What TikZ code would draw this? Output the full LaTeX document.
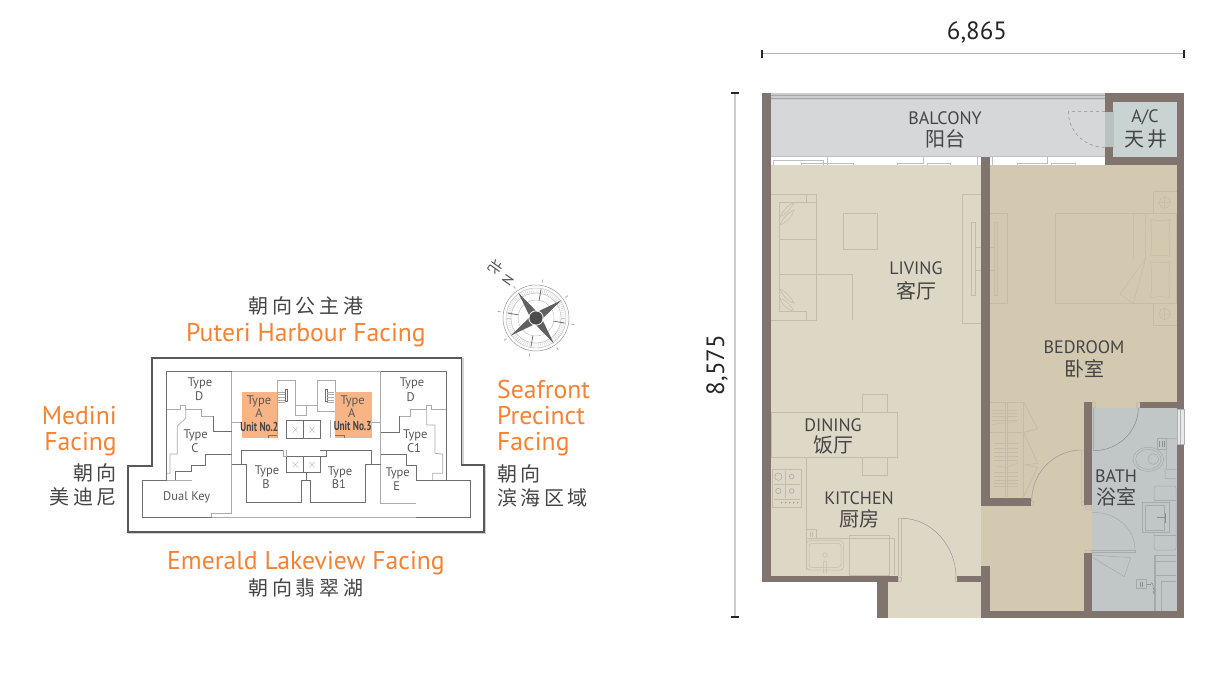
\documentclass[tikz,border=0pt]{standalone}
\usepackage{fontspec}
\setmainfont{PT Sans}
\newfontfamily\cjk{Noto Sans CJK SC}
\newfontfamily\cjkw[LetterSpace=18]{Noto Sans CJK SC}
\definecolor{wallc}{HTML}{81746F}
\definecolor{livc}{HTML}{DDD7C5}
\definecolor{bedc}{HTML}{D3C9B1}
\definecolor{bathc}{HTML}{C1C6C7}
\definecolor{balc}{HTML}{D6D7D8}
\definecolor{acc}{HTML}{C9D3D1}
\definecolor{orangec}{HTML}{F58233}
\definecolor{txtc}{HTML}{454545}
\definecolor{fixc}{HTML}{C3BCA9}
\definecolor{bfix}{HTML}{A5ABAD}
\definecolor{kdark}{HTML}{6E6E6E}
\definecolor{klight}{HTML}{ABABAB}
\tikzset{
 wall/.style={fill=wallc,draw=none},
 fix/.style={draw=fixc,line width=.5pt},
 bfx/.style={draw=bfix,line width=.5pt},
 rail/.style={draw=black!25,line width=.5pt},
 kd/.style={draw=kdark,line width=.9pt},
 kl/.style={draw=klight,line width=.7pt},
 lbl/.style={text=txtc,inner sep=0pt,font=\fontsize{18}{18}\selectfont},
 clbl/.style={text=txtc,inner sep=0pt,font=\fontsize{20}{20}\cjk},
 olbl/.style={text=orangec,inner sep=0pt,font=\fontsize{25.7}{25.7}\selectfont},
 glbl/.style={text=txtc,inner sep=0pt,font=\fontsize{20}{20}\cjkw},
 tlbl/.style={text=txtc!90,inner sep=0pt,font=\fontsize{12.5}{12.5}\selectfont},
 ulbl/.style={text=txtc,inner sep=0pt,font=\fontsize{13}{13}\bfseries\selectfont},
 dimline/.style={draw=black!30,line width=1.1pt},
 dimtick/.style={draw=black!85,line width=1.1pt},
 dimtxt/.style={text=black!85,inner sep=0pt,font=\fontsize{25}{25}\selectfont},
 zoomed/.style={x=.33333pt,y=-.33333pt},
}
\begin{document}
\begin{tikzpicture}[x=1pt,y=-1pt]
\useasboundingbox (0,0) rectangle (1232,675);
\fill[white] (0,0) rectangle (1232,675);

% ---------- floors
\fill[balc] (771,93) rectangle (1105,157);
\fill[black!20] (771,93) rectangle (1105,100);
\draw[black!35,line width=.8pt] (771,95.5) -- (1105,95.5);
\draw[black!35,line width=.8pt] (771,98.5) -- (1105,98.5);
\fill[acc] (1105,102) rectangle (1177,157);
\fill[livc] (771,165) rectangle (981,576);
\fill[livc] (888,576) rectangle (981,618);
\fill[bedc] (981,165) rectangle (1177,402);
\fill[bedc] (981,402) rectangle (1084,612);
\fill[bedc] (1084,402) rectangle (1140,408);
\fill[bedc] (1084,505) rectangle (1092,553);
\fill[bathc] (1092,408) rectangle (1177,612);
\fill[bathc!40!white] (1177,409) rectangle (1184,444);

% ---------- upper plan fixtures
\begin{scope}[shift={(755,85)},zoomed]
 \draw[rail] (55,240)--(55,225)--(205,225)--(205,240) (218,240)--(218,215)
  (138,240)--(138,236)--(295,236)--(295,240)
  (428,240)--(428,236)--(505,236)--(505,215) (517,240)--(517,236)--(585,236)--(585,240)
  (668,240)--(668,215) (712,240)--(712,215)
  (788,240)--(788,236)--(878,236)--(878,215) (888,240)--(888,236)--(962,236)--(962,240)
  (48,215)--(677,215) (704,215)--(1050,215);
 \draw[draw=black!45,dashed,line width=.5pt] (1050,80)--(940,80)
   .. controls (940,135) and (985,187) .. (1050,187);
 \filldraw[fill=acc,draw=black!25,line width=.4pt] (1050,80) rectangle (1075,187);
 % sofa
 \draw[fix] (48,327)--(184,327)--(184,706)--(48,706)
   (155,327)--(155,353)--(73,353)--(73,680)--(155,680)--(155,706)
   (73,463)--(184,463) (73,568)--(292,568)--(292,706)
   (155,327)--(155,353)--(184,353);
 \draw[fix] (75,395) .. controls (85,375) and (105,355) .. (117,353) .. controls (105,375) and (90,390) .. (75,395)
   (75,420) .. controls (85,395) and (105,380) .. (117,375) .. controls (110,400) and (90,415) .. (75,420);
 \draw[fix] (75,612) .. controls (95,620) and (110,640) .. (117,655) .. controls (100,650) and (80,630) .. (75,612)
   (75,640) .. controls (95,645) and (110,665) .. (117,680) .. controls (100,675) and (80,660) .. (75,640);
 \draw[fix] (265,385) rectangle (368,494);
 % TV units
 \draw[fix] (677,327)--(622,327)--(622,716)--(677,716);
 \draw[fix] (648,412) rectangle (660,632) (660,487)--(677,487) (660,555)--(677,555);
 \draw[fix] (704,385)--(757,385)--(757,655)--(704,655);
 \draw[fix] (718,412) rectangle (728,632) (704,487)--(718,487) (704,555)--(718,555);
 % bed
 \draw[fix] (901,385) rectangle (1265,655);
 \draw[fix] (1135,385)--(1135,520) (1172,385)--(1172,520)--(1095,628)--(1135,655)--(1172,520);
 \draw[fix] (1265,320)--(1196,320)--(1196,385) (1196,655)--(1196,720)--(1265,720);
 \draw[fix] (1229,353) circle[radius=17] (1212,353)--(1246,353) (1229,336)--(1229,370);
 \draw[fix] (1229,687) circle[radius=17] (1212,687)--(1246,687) (1229,670)--(1229,704);
 \draw[fix] (1187,403) .. controls (1205,408) and (1228,408) .. (1245,403) .. controls (1241,440) and (1241,480) .. (1245,513) .. controls (1228,510) and (1205,510) .. (1187,513) .. controls (1191,480) and (1191,440) .. (1187,403);
 \draw[fix] (1187,530) .. controls (1205,534) and (1228,534) .. (1245,530) .. controls (1241,565) and (1241,605) .. (1245,638) .. controls (1228,634) and (1205,634) .. (1187,638) .. controls (1191,605) and (1191,565) .. (1187,530);
\end{scope}

% ---------- lower plan fixtures
\begin{scope}[shift={(755,350)},zoomed]
 \filldraw[fill=livc!96!white,draw=fixc,line width=.5pt] (48,187) rectangle (428,322);
 \draw[fix] (323,187)--(323,133)--(398,133)--(398,187) (323,322)--(323,376)--(398,376)--(398,322);
 \draw[fix] (48,322)--(155,322)--(155,660);
 \draw[fix,line width=.7pt] (52,358) rectangle (138,472);
 \draw[fix,draw=black!35] (70,380) circle[radius=11] (110,380) circle[radius=7] (70,423) circle[radius=8] (110,423) circle[radius=7];
 \draw[fix] (58,402)--(135,402) (90,362)--(90,445) (56,448)--(135,448);
 \foreach \q in {80,92,104,116,128}{\fill[black!40] (\q,458) circle[radius=2.5];}
 \draw[fix] (155,538) rectangle (185,565) (165,545)--(165,560) (173,545)--(173,560);
 \draw[fix] (155,565)--(418,565)--(418,675);
 \draw[fix,rounded corners=3pt] (155,572) rectangle (265,660);
 \draw[fix,rounded corners=3pt] (162,580) rectangle (258,652);
 \draw[fix] (210,615) circle[radius=7] (205,670)--(205,635)--(215,635)--(215,670);
 \draw[fix] (282,557) rectangle (402,675);
 \draw[fix] (430,678)--(430,505)--(440,505)--(440,678);
 \draw[draw=black!40,line width=.5pt] (440,505) .. controls (531,505) and (603,590) .. (603,680);
 \draw[fix] (430,683) rectangle (440,695) (600,683) rectangle (610,695);
\end{scope}

% wardrobe + bedroom door
\begin{scope}[shift={(985,395)},zoomed]
 \draw[fix] (15,22)--(116,22)--(116,305) (15,112)--(116,112) (60,22)--(60,305) (68,22)--(68,305);
 \foreach \q in {45,55,65,75}{\draw[fix] (22,\q)--(95,\q);}
 \draw[fix] (22,88)--(95,80);
 \foreach \q in {145,160,172,183,195,232,243,255,265,274}{\draw[fix] (28,\q)--(100,\q);}
 \draw[fix] (28,212)--(65,218)--(100,203);
 \draw[fix,line width=.8pt] (116,22)--(158,102)--(116,112)--(158,205)--(118,210)--(158,217)--(116,305);
 \draw[draw=black!40,line width=.5pt] (140,318) .. controls (140,230) and (210,165) .. (290,165);
 \draw[fix] (288,165)--(288,315) (298,165)--(298,315) (288,165)--(298,165);
 \draw[fix] (136,318) rectangle (146,330) (290,318) rectangle (302,330);
\end{scope}

% bathroom fixtures
\begin{scope}[shift={(1085,400)},zoomed]
 \draw[bfx] (25,152)--(25,22);
 \draw[draw=black!45,line width=.5pt] (25,152) .. controls (100,152) and (160,95) .. (160,22);
 \draw[fix] (22,8) rectangle (32,22) (155,8) rectangle (165,22);
 \draw[bfx] (217,115) rectangle (245,148);
 \foreach \q in {224,231,238}{\draw[black!45,line width=.4pt] (\q,122)--(\q,142);}
 \draw[bfx] (245,115)--(275,115) (245,115)--(245,208)--(275,208)
   (190,178) ellipse[x radius=46,y radius=36] (190,178) ellipse[x radius=38,y radius=30]
   (205,177) circle[radius=16] (273,235)--(240,235)--(240,205);
 \draw[bfx,rounded corners=2pt] (207,258) rectangle (273,450);
 \draw[bfx] (207,300)--(273,300) (207,405)--(273,405);
 \filldraw[fill=bathc,draw=bfix,line width=.5pt] (172,307) rectangle (253,398);
 \draw[bfx] (182,317) rectangle (238,390);
 \draw[black!45,line width=.4pt] (217,353)--(240,353) (240,340)--(240,368);
 \draw[bfx] (22,337) .. controls (95,337) and (150,385) .. (150,450);
 \draw[bfx] (22,450)--(150,450) (22,458)--(150,458)--(150,450);
 \draw[fix] (0,318) rectangle (20,328) (0,450) rectangle (20,460);
 \draw[bfx] (22,465)--(137,473)--(118,530)--(22,472);
 \draw[bfx] (207,465)--(273,465) (207,485)--(273,485) (207,465)--(207,635)--(273,635)
   (212,525)--(273,525) (228,635)--(228,545)--(273,545) (212,465)--(212,635);
 \draw[bfx] (155,538) rectangle (185,565);
 \draw[black!45,line width=.4pt] (165,545)--(165,560) (172,545)--(172,560) (185,552)--(198,552);
 \draw[black!50,line width=.5pt] (198,548) .. controls (210,552) and (200,565) .. (208,570) .. controls (203,574) and (206,578) .. (208,582);
\end{scope}

% ---------- walls
\fill[wall] (761.7,93) rectangle (771,582);
\fill[wall] (761.7,575.5) rectangle (898,582);
\fill[wall] (957,575.5) rectangle (981,582);
\fill[wall] (877,577) rectangle (888,618);
\fill[wall] (981,566) rectangle (990,618);
\fill[wall] (981,611) rectangle (1184,618);
\fill[wall] (981,157) rectangle (990,506);
\fill[wall] (981,498) rectangle (1031,506);
\fill[wall] (1084,402) rectangle (1092,505);
\fill[wall] (1084,553) rectangle (1092,618);
\fill[wall] (1140,402) rectangle (1184,408);
\fill[wall] (1177,93) rectangle (1184,409);
\fill[wall] (1177,444) rectangle (1184,618);
\fill[wall] (1105,93) rectangle (1184,102);
\fill[wall] (1105,157) rectangle (1184,165);
\fill[wall] (1105,93) rectangle (1113,112);
\fill[wall] (1105,147) rectangle (1113,165);
\fill[acc!92!black] (1105,112) rectangle (1113,147);
\draw[black!30,line width=.4pt] (1177,409) rectangle (1184,444);
\draw[black!30,line width=.4pt] (1180,409) -- (1180,444);

% ---------- dimensions
\coordinate (hl) at (762,53.5); \coordinate (hr) at (1184,53.5);
\coordinate (vt) at (735,93); \coordinate (vb) at (735,617);
\draw[dimline] (hl) -- (hr);
\draw[dimline,line width=1.6pt,draw=black!20] (vt) -- (vb);
\draw[dimtick] (762,49.5) -- (762,57.5); \draw[dimtick] (1184,49.5) -- (1184,57.5);
\draw[dimtick] (731,93) -- (739,93); \draw[dimtick] (731,617) -- (739,617);
\node[dimtxt] (dimw) at (977,32) {6,865};
\node[dimtxt,rotate=90] (dimh) at (717,365) {8,575};

% ---------- plan labels
\node[lbl] (t1) at (945,118) {BALCONY}; \node[clbl] (t2) at (945,139) {阳台};
\node[lbl] (t3) at (1145,117) {A/C}; \node[clbl,font=\fontsize{20}{20}\cjkw] (t4) at (1146,139) {天井};
\node[lbl] (t5) at (916,268) {LIVING}; \node[clbl] (t6) at (916,291) {客厅};
\node[lbl] (t7) at (1084,347) {BEDROOM}; \node[clbl] (t8) at (1084,369) {卧室};
\node[lbl] (t9) at (833,425) {DINING}; \node[clbl] (t10) at (833,445) {饭厅};
\node[lbl] (t11) at (859,498) {KITCHEN}; \node[clbl] (t12) at (859,519) {厨房};
\node[lbl] (t13) at (1116,476) {BATH}; \node[clbl] (t14) at (1116,497) {浴室};

% ---------- key plan
\draw[black!18,line width=2pt] (129,467)--(153,467)--(153,359)--(462.5,359)--(462.5,466)--(485,466)--(485,533)--(129,533)--cycle;
\draw[draw=black!65,line width=1.2pt,fill=white] (128,466)--(152,466)--(152,358)--(461.5,358)--(461.5,465)--(484,465)--(484,532)--(128,532)--cycle;
\begin{scope}[shift={(120,350)},zoomed]
 \fill[orangec!60!white] (365,127) rectangle (472,265);
 \fill[orangec!60!white] (645,127) rectangle (755,265);
 \draw[kl] (335,65)--(782,65);
 \draw[kd] (140,390)--(140,65)--(335,65);
 \draw[kd] (782,65)--(978,65)--(978,390);
 \draw[kl] (335,65)--(335,490)--(275,490)--(275,502)--(888,502);
 \draw[kl] (782,65)--(782,460)--(888,460);
 \draw[kd] (68,390)--(68,502)--(275,502);
 \draw[kl] (68,390)--(215,390);
 \draw[kd] (68,390)--(140,390);
 \draw[kd] (888,502)--(1050,502)--(1050,390)--(888,390);
 \draw[kd] (888,390)--(888,345)--(860,345)--(860,312)--(782,312);
 \draw[kl] (140,178)--(182,178)--(182,166)--(197,166)--(197,178)--(245,178)--(245,198)--(280,198);
 \draw[kd] (280,198)--(280,245)--(335,245);
 \draw[kl] (197,178)--(197,205)--(172,228)--(172,312)--(150,312)--(150,370)--(140,370);
 \draw[kd] (167,390)--(167,365)--(215,365)--(215,345)--(255,345)--(255,312)--(335,312);
 \draw[kl] (978,178)--(935,178)--(935,166)--(920,166)--(920,178)--(872,178)--(872,198)--(838,198);
 \draw[kd] (838,198)--(838,248)--(782,248);
 \draw[kl] (920,178)--(920,225)--(945,225)--(945,310)--(968,312)--(968,370)--(938,370)--(938,390);
 \draw[kl] (335,218)--(365,218) (755,218)--(782,218);
 \draw[kl] (472,90)--(525,90)--(525,165)--(558,165)--(558,197)--(525,197)--(525,165);
 \draw[kl] (472,90)--(472,265) (558,165)--(592,165);
 \draw[kl] (592,90)--(645,90)--(645,127) (592,90)--(592,185)--(645,185) (632,210)--(632,265);
 \draw[kd,line width=.5pt] (495,118) rectangle (502,155) (615,118) rectangle (622,155);
 \foreach \q in {125,133,141,149,155}{\draw[kl,line width=.3pt] (474,\q)--(495,\q) (622,\q)--(643,\q);}
 \draw[orangec!75!black,line width=.4pt] (445,265)--(445,255)--(472,255) (672,265)--(672,255)--(645,255);
 \draw[kd,line width=.6pt] (500,212) rectangle (602,265) (551,212)--(551,265);
 \draw[kl,line width=.3pt] (518,230)--(534,248) (534,230)--(518,248) (568,230)--(584,248) (584,230)--(568,248);
 \draw[kd] (500,320) rectangle (600,368) (551,320)--(551,368);
 \draw[kl,line width=.3pt] (518,336)--(534,352) (534,336)--(518,352) (568,336)--(584,352) (584,336)--(568,352);
 \draw[kd] (365,343)--(365,300)--(490,300);
 \draw[kl] (490,300)--(490,320)--(500,320) (498,300)--(498,320);
 \draw[kd] (335,343)--(380,343)--(380,458)--(545,458)--(545,392)--(570,392)--(570,458)--(735,458)--(735,343)--(782,343);
 \draw[kd] (600,320)--(620,320)--(620,300)--(755,300)--(755,343) (600,300)--(620,300);
 \draw[kd] (558,368)--(558,392);
 \node[tlbl] (k1) at (240,100) {Type}; \node[tlbl] (k2) at (238,138) {D};
 \node[tlbl] (k3) at (227,257) {Type}; \node[tlbl] (k4) at (225,295) {C};
 \node[tlbl] (k5) at (417,153) {Type}; \node[tlbl] (k6) at (417,190) {A};
 \node[ulbl] (k7) at (418,230) {\scalebox{.72}[1]{Unit No.2}};
 \node[tlbl] (k8) at (698,153) {Type}; \node[tlbl] (k9) at (695,190) {A};
 \node[ulbl] (k10) at (698,228) {\scalebox{.72}[1]{Unit No.3}};
 \node[tlbl] (k11) at (876,100) {Type}; \node[tlbl] (k12) at (872,140) {D};
 \node[tlbl] (k13) at (886,257) {Type}; \node[tlbl] (k14) at (882,293) {C1};
 \node[tlbl] (k15) at (441,365) {Type}; \node[tlbl] (k16) at (438,403) {B};
 \node[tlbl] (k17) at (660,367) {Type}; \node[tlbl] (k18) at (657,403) {B1};
 \node[tlbl] (k19) at (833,370) {Type}; \node[tlbl] (k20) at (830,407) {E};
 \node[tlbl] (k21) at (200,443) {Dual Key};
\end{scope}

% ---------- facing labels
\node[glbl] (f1) at (306,306) {朝向公主港};
\node[olbl] (f2) at (306,335) {Puteri Harbour Facing};
\node[olbl] (f3) at (306,563) {Emerald Lakeview Facing};
\node[glbl] (f4) at (306,588) {朝向翡翠湖};
\node[olbl,anchor=east] (f5) at (117,416) {Medini};
\node[olbl,anchor=east] (f6) at (117,444) {Facing};
\node[glbl,anchor=east] (f7) at (117,473) {朝向};
\node[glbl,anchor=east] (f8) at (117,497) {美迪尼};
\node[olbl,anchor=west] (f9) at (497,389) {Seafront};
\node[olbl,anchor=west] (f10) at (497,416) {Precinct};
\node[olbl,anchor=west] (f11) at (497,444) {Facing};
\node[glbl,anchor=west] (f12) at (497,474) {朝向};
\node[glbl,anchor=west] (f13) at (497,498) {滨海区域};

% ---------- compass
\begin{scope}[shift={(536,318)}]
 \draw[black!40,line width=.5pt] (0,0) circle[radius=33];
 \draw[black!28,line width=.4pt] (0,0) circle[radius=30];
 \draw[black!28,line width=.4pt] (0,0) circle[radius=25];
 \draw[black!28,line width=.4pt] (0,0) circle[radius=18];
 \foreach \a in {0,4,...,356}{\draw[black!20,line width=.3pt] (\a:25)--(\a:30);}
 \foreach \a in {10,100,190,280}{\draw[black!55,line width=.8pt] (\a:18)--(\a:29);}
 \foreach \a in {-35,55,145,235}{
  \fill[black!62] (\a:31)--(\a+75:5)--(\a-75:5)--cycle;
 }
 \fill[black!70] (0,0) circle[radius=6.5];
 \draw[white,line width=.8pt] (0,0) circle[radius=7.2];
 \foreach \a in {10,55,100,145,190,235,280,325}{\draw[black!28,line width=1pt] (\a:36)--(\a:39);}
\end{scope}
\node[text=black!70,inner sep=0pt,font=\fontsize{14}{14}\selectfont,rotate=-125] (cn) at (508,280) {N};
\node[text=black!70,inner sep=0pt,font=\fontsize{14}{14}\cjk,rotate=-125] (cb) at (495.5,267) {北};
\end{tikzpicture}
\end{document}
